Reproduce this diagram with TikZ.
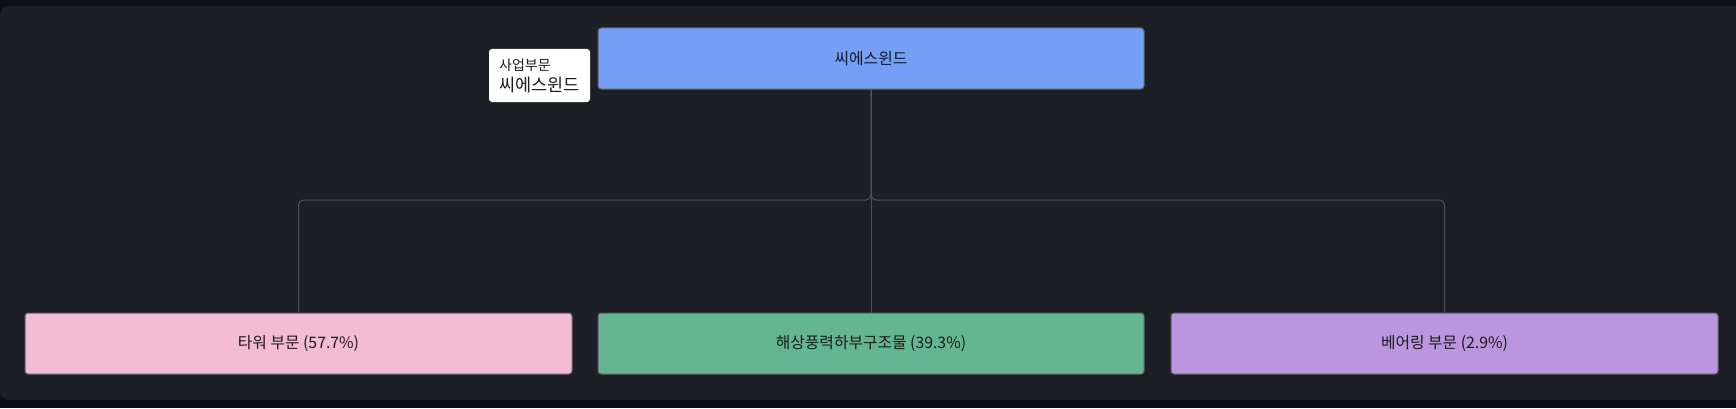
\documentclass[tikz,border=0pt]{standalone}
\usepackage{fontspec}
\setmainfont{Noto Sans CJK KR}
\usetikzlibrary{positioning}
\definecolor{swOuterBg}{RGB}{12,15,19}
\definecolor{swPanelBg}{RGB}{28,31,38}
\definecolor{swEdge}{RGB}{78,81,89}
\definecolor{swBorder}{RGB}{96,98,104}
\definecolor{swBlue}{RGB}{116,159,244}
\definecolor{swPink}{RGB}{244,187,210}
\definecolor{swGreen}{RGB}{99,182,145}
\definecolor{swPurple}{RGB}{187,150,222}
\definecolor{swText}{RGB}{26,26,30}
\tikzset{
  segbox/.style={draw=swBorder,line width=1pt,rounded corners=3pt,
    minimum width=546pt,minimum height=61pt,inner sep=0pt,
    text=swText,font=\fontsize{15.8}{18}\selectfont},
  treeline/.style={draw=swEdge,line width=1pt,rounded corners=5pt},
}

\begin{document}
\begin{tikzpicture}[x=1pt,y=1pt]

    \useasboundingbox (0,0) rectangle (1736,408);
    \fill[swOuterBg] (0,0) rectangle (1736,408);
    \begin{scope}
      \clip (0,0) rectangle (1736,408);
      \fill[swPanelBg,rounded corners=9pt] (0,8) rectangle (1760,402);
    \end{scope}

    % top node
    \node[segbox,fill=swBlue] (csw) at (871,349.5) {씨에스윈드};

    % segments
    \node[segbox,fill=swPink,minimum width=547pt] (tower) at (298.5,64.5) {타워 부문 (57.7\%)};
    \node[segbox,fill=swGreen] (offshore) at (871,64.5) {해상풍력하부구조물 (39.3\%)};
    \node[segbox,fill=swPurple,minimum width=547pt] (bearing) at (1444.5,64.5) {베어링 부문 (2.9\%)};

    \coordinate (fork) at (871,208);
    \foreach \seg in {tower,offshore,bearing}
      \draw[treeline] (csw.south) -- (fork) -| (\seg.north);

    % tooltip
    \node[fill=white,rounded corners=3pt,minimum width=101pt,minimum height=53pt,
      inner sep=0pt] (tip) at (539.5,332.5) {};
    \node[anchor=west,text=swText,font=\fontsize{14}{16}\selectfont,inner sep=0pt]
      (tiphead) at (499,343) {사업부문};
    \node[anchor=west,text=swText,font=\fontsize{17.5}{20}\selectfont,inner sep=0pt]
      (tipname) at (499,323) {씨에스윈드};

  \end{tikzpicture}
\end{document}
